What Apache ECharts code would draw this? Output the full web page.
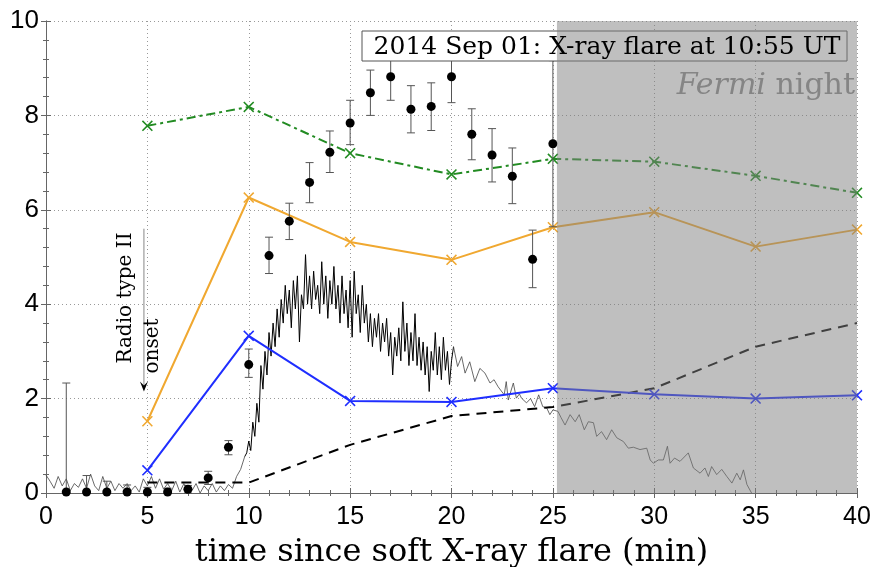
<!DOCTYPE html>
<html>
<head>
<meta charset="utf-8">
<script src="https://cdn.jsdelivr.net/npm/echarts@6/dist/echarts.min.js"></script>
<style>
  html, body { margin: 0; padding: 0; background: #fff; }
  #flare_chart { width: 874px; height: 567px; }
</style>
</head>
<body>
<div id="flare_chart"></div>
<script>
// model curves, sampled every 5 min
const modelTimes = [5, 10, 15, 20, 25, 30, 35, 40];
const greenModel = [7.78, 8.18, 7.2, 6.75, 7.08, 7.02, 6.72, 6.36];
const orangeModel = [1.52, 6.26, 5.32, 4.94, 5.63, 5.95, 5.22, 5.58];
const blueModel = [0.48, 3.33, 1.95, 1.93, 2.22, 2.09, 2.0, 2.07];
const dashTimes = [5, 10, 15, 20, 25, 30, 35, 40];
const dashModel = [0.22, 0.22, 1.02, 1.63, 1.82, 2.22, 3.1, 3.6];

// measured points: [minute, value, low, high]
const measured = [
  [1, 0.02, 0, 2.33], [2, 0.02, 0, 0.37], [3, 0.02, 0, 0.25], [4, 0.02, 0, 0.17],
  [5, 0.02, 0, 0.12], [6, 0.02, 0, 0.1], [7, 0.08, 0, 0.16], [8, 0.32, 0.18, 0.46],
  [9, 0.97, 0.81, 1.11], [10, 2.72, 2.45, 3.05], [11, 5.03, 4.65, 5.42], [12, 5.76, 5.37, 6.14],
  [13, 6.58, 6.15, 7.0], [14, 7.22, 6.79, 7.67], [15, 7.84, 7.38, 8.32], [16, 8.48, 8.0, 8.96],
  [17, 8.82, 8.32, 9.3], [18, 8.13, 7.63, 8.63], [19, 8.19, 7.68, 8.69], [20, 8.82, 8.27, 9.35],
  [21, 7.6, 7.06, 8.14], [22, 7.16, 6.59, 7.72], [23, 6.71, 6.13, 7.31], [24, 4.95, 4.35, 5.57],
  [25, 7.4, 5.64, 9.16]
];

// X-ray count rate trace: [minute, value]
const fluxQuiet = [
  [0, 0.38], [0.2, 0.25], [0.4, 0.1], [0.6, 0.35], [0.8, 0.15], [1.0, 0.3], [1.2, 0.05], [1.4, 0.2],
  [1.6, 0.12], [1.8, 0.3], [2.0, 0.1], [2.2, 0.4], [2.4, 0.15], [2.6, 0.05], [2.8, 0.35], [3.0, 0.1],
  [3.2, 0.25], [3.4, 0.05], [3.6, 0.2], [3.8, 0.1], [4.0, 0.2], [4.2, 0.05], [4.4, 0.15], [4.6, 0.02],
  [4.8, 0.3], [5.0, 0.15], [5.2, 0.35], [5.4, 0.1], [5.6, 0.3], [5.8, 0.08], [6.0, 0.2], [6.2, 0.05],
  [6.4, 0.25], [6.6, 0.02], [6.8, 0.2], [7.0, 0.1], [7.2, 0.05], [7.4, 0.2], [7.6, 0.0], [7.8, 0.15],
  [8.0, 0.05], [8.2, 0.2], [8.4, 0.02], [8.6, 0.15], [8.8, 0.05], [9.0, 0.18], [9.2, 0.1], [9.4, 0.35],
  [9.6, 0.5], [9.8, 0.77]
];
const fluxPeak = [
  [9.8, 0.77], [9.9, 0.85], [10.0, 1.1], [10.1, 0.9], [10.2, 1.5], [10.3, 1.2], [10.4, 1.9], [10.5, 1.5],
  [10.6, 2.7], [10.7, 2.2], [10.8, 3.0], [10.9, 2.5], [11.0, 3.4], [11.1, 2.9], [11.2, 3.6], [11.3, 3.1],
  [11.4, 3.9], [11.5, 3.3], [11.6, 4.1], [11.7, 3.6], [11.8, 4.4], [11.9, 3.8], [12.0, 4.3], [12.1, 3.5],
  [12.2, 4.5], [12.3, 3.9], [12.4, 4.6], [12.5, 3.2], [12.6, 4.2], [12.7, 3.9], [12.8, 5.05], [12.9, 4.0],
  [13.0, 4.6], [13.1, 3.9], [13.2, 4.7], [13.3, 4.1], [13.4, 4.4], [13.5, 3.8], [13.6, 4.9], [13.7, 4.0],
  [13.8, 4.6], [13.9, 3.7], [14.0, 4.5], [14.1, 4.0], [14.2, 4.8], [14.3, 3.9], [14.4, 4.4], [14.5, 3.6],
  [14.6, 4.6], [14.7, 3.8], [14.8, 4.3], [14.9, 3.5], [15.0, 4.5], [15.1, 3.3], [15.2, 4.7], [15.3, 3.8],
  [15.4, 4.2], [15.5, 3.4], [15.6, 4.4], [15.7, 3.6], [15.8, 4.0], [15.9, 3.2], [16.0, 3.8], [16.1, 3.1],
  [16.2, 3.7], [16.3, 3.3], [16.4, 3.8], [16.5, 3.0], [16.6, 3.6], [16.7, 3.2], [16.8, 3.7], [16.9, 2.9],
  [17.0, 3.4], [17.1, 2.5], [17.2, 3.3], [17.3, 2.9], [17.4, 3.5], [17.5, 2.8], [17.6, 4.05], [17.7, 3.0],
  [17.8, 3.6], [17.9, 2.7], [18.0, 3.4], [18.1, 2.8], [18.2, 3.8], [18.3, 2.7], [18.4, 3.3], [18.5, 2.6],
  [18.6, 3.2], [18.7, 2.5], [18.8, 3.1], [18.9, 2.15], [19.0, 3.0], [19.1, 2.6], [19.2, 3.4], [19.3, 2.5],
  [19.4, 3.1], [19.5, 2.4], [19.6, 3.3], [19.7, 2.6], [19.8, 3.0], [19.9, 2.3], [20.0, 2.8], [20.1, 3.1]
];
const fluxDecay = [
  [20.1, 3.1], [20.3, 2.68], [20.5, 2.89], [20.67, 2.54], [20.9, 2.78], [21.15, 2.36], [21.4, 2.64],
  [21.65, 2.54], [21.9, 2.33], [22.1, 2.4], [22.3, 2.25], [22.6, 2.08], [22.7, 2.36], [22.8, 1.97],
  [23.05, 2.33], [23.2, 2.01], [23.35, 2.1], [23.45, 2.01], [23.7, 1.91], [23.9, 2.0], [24.1, 1.83],
  [24.3, 2.08], [24.5, 1.83], [24.7, 1.8], [24.85, 1.66], [25.0, 1.76], [25.25, 1.73], [25.4, 1.6],
  [25.6, 1.44], [25.85, 1.66], [26.1, 1.51], [26.3, 1.66], [26.55, 1.34], [26.75, 1.51], [27.0, 1.49],
  [27.16, 1.2], [27.4, 1.3], [27.65, 1.13], [27.9, 1.34], [28.15, 1.17], [28.48, 1.09], [28.72, 0.95],
  [28.97, 0.97], [29.3, 0.92], [29.63, 0.95], [29.8, 0.7], [29.96, 0.63], [30.2, 0.7], [30.45, 0.7],
  [30.65, 0.99], [30.78, 0.63], [31.0, 0.74], [31.27, 0.67], [31.68, 0.85], [31.93, 0.53], [32.26, 0.42],
  [32.5, 0.53], [32.67, 0.35], [32.83, 0.56], [33.08, 0.39], [33.33, 0.5], [33.58, 0.35], [33.83, 0.21],
  [34.07, 0.42], [34.24, 0.28], [34.4, 0.49], [34.57, 0.18], [34.8, 0.0]
];

const fermiNight = [25.2, 40];
const xTicks = [0, 5, 10, 15, 20, 25, 30, 35, 40];
const yTicks = [0, 2, 4, 6, 8, 10];

const chart = echarts.init(document.getElementById("flare_chart"));

const crossSymbol = "path://M0,1L1,0L5,4L9,0L10,1L6,5L10,9L9,10L5,6L1,10L0,9L4,5Z";
const serif = "'DejaVu Serif', 'Liberation Serif', serif";
const sans = "'Liberation Sans', Arial, sans-serif";

function pairs(xs, ys) {
  return xs.map((x, i) => [x, ys[i]]);
}

function modelLine(name, data, color, type, z) {
  return {
    name: name,
    type: "line",
    data: data,
    z: z,
    symbol: crossSymbol,
    symbolSize: 11,
    itemStyle: { color: color, opacity: 1 },
    lineStyle: { color: color, width: 2, type: type },
  };
}

const errorBars = {
  type: "custom",
  z: 4,
  data: measured.map((m) => [m[0], m[2], m[3]]),
  renderItem: function (params, api) {
    const lo = api.coord([api.value(0), api.value(1)]);
    const hi = api.coord([api.value(0), api.value(2)]);
    const s = { stroke: "#555", lineWidth: 1 };
    return {
      type: "group",
      children: [
        { type: "line", shape: { x1: lo[0], y1: lo[1], x2: hi[0], y2: hi[1] }, style: s },
        { type: "line", shape: { x1: lo[0] - 4, y1: lo[1], x2: lo[0] + 4, y2: lo[1] }, style: s },
        { type: "line", shape: { x1: hi[0] - 4, y1: hi[1], x2: hi[0] + 4, y2: hi[1] }, style: s },
      ],
    };
  },
};

const nightShade = {
  type: "custom",
  z: 6,
  data: [fermiNight],
  renderItem: function (params, api) {
    const a = api.coord([api.value(0), 10]);
    const b = api.coord([api.value(1), 0]);
    return {
      type: "rect",
      shape: { x: a[0], y: a[1], width: b[0] - a[0], height: b[1] - a[1] },
      style: { fill: "rgba(128,128,128,0.5)" },
    };
  },
};

const axisGray = { color: "#666" };

const option = {
  animation: false,
  grid: { left: 46, right: 17, top: 21, bottom: 74, outerBoundsMode: "none" },
  xAxis: [
    {
      type: "value",
      min: 0,
      max: 40,
      interval: 5,
      name: "time since soft X-ray flare (min)",
      nameLocation: "middle",
      nameGap: 44,
      nameTextStyle: { fontFamily: serif, fontSize: 32, color: "#000" },
      axisLine: { lineStyle: { color: "#888" } },
      axisTick: { inside: true, length: 5, lineStyle: axisGray },
      minorTick: { show: true, splitNumber: 5, length: 3, lineStyle: axisGray },
      axisLabel: {
        fontFamily: sans,
        fontSize: 25,
        color: "#000",
        margin: 12,
        formatter: (v) => (xTicks.includes(v) ? String(v) : ""),
      },
      splitLine: { show: true, lineStyle: { color: "#999", type: [1, 3], width: 1 } },
    },
    {
      type: "value",
      position: "top",
      min: 0,
      max: 40,
      interval: 5,
      axisLine: { show: true, lineStyle: axisGray },
      axisTick: { inside: true, length: 5, lineStyle: axisGray },
      minorTick: { show: true, splitNumber: 5, length: 3, lineStyle: axisGray },
      axisLabel: { show: false },
      splitLine: { show: false },
    },
  ],
  yAxis: [
    {
      type: "value",
      min: 0,
      max: 10,
      interval: 2,
      axisLine: { show: true, lineStyle: { color: "#888" } },
      axisTick: { show: true, inside: true, length: 5, lineStyle: axisGray },
      minorTick: { show: true, splitNumber: 5, length: 3, lineStyle: axisGray },
      axisLabel: {
        fontFamily: sans,
        fontSize: 26,
        color: "#000",
        margin: 7,
        formatter: (v) => (yTicks.includes(v) ? String(v) : ""),
      },
      splitLine: { show: true, lineStyle: { color: "#999", type: [1, 3], width: 1 } },
    },
    {
      type: "value",
      position: "right",
      min: 0,
      max: 10,
      interval: 2,
      axisLine: { show: true, lineStyle: axisGray },
      axisTick: { show: true, inside: true, length: 5, lineStyle: axisGray },
      minorTick: { show: true, splitNumber: 5, length: 3, lineStyle: axisGray },
      axisLabel: { show: false },
      splitLine: { show: false },
    },
  ],
  series: [
    {
      type: "line",
      data: fluxQuiet,
      z: 2,
      symbol: "none",
      lineStyle: { color: "#444", width: 0.8 },
    },
    {
      type: "line",
      data: fluxPeak,
      z: 2,
      symbol: "none",
      lineStyle: { color: "#000", width: 1 },
    },
    {
      type: "line",
      data: fluxDecay,
      z: 2,
      symbol: "none",
      lineStyle: { color: "#444", width: 0.8 },
    },
    {
      type: "line",
      data: pairs(dashTimes, dashModel),
      z: 3,
      symbol: "none",
      lineStyle: { color: "#000", width: 2, type: [10, 7] },
    },
    modelLine("green", pairs(modelTimes, greenModel), "#228b22", [9, 4, 3, 4], 3),
    modelLine("orange", pairs(modelTimes, orangeModel), "#f0a830", "solid", 3),
    modelLine("blue", pairs(modelTimes, blueModel), "#1f2eff", "solid", 3),
    errorBars,
    {
      type: "scatter",
      z: 5,
      data: measured.map((m) => [m[0], m[1]]),
      symbol: "circle",
      symbolSize: 9,
      itemStyle: { color: "#000", opacity: 1 },
    },
    nightShade,
  ],
};

chart.setOption(option);

// annotations placed from data coordinates
const arrowTop = chart.convertToPixel({ gridIndex: 0 }, [4.83, 5.6]);
const arrowTip = chart.convertToPixel({ gridIndex: 0 }, [4.83, 2.15]);

chart.setOption({
  graphic: [
    {
      type: "rect",
      z: 5,
      shape: { x: 362, y: 31, width: 485, height: 30 },
      style: { fill: "#fff", stroke: "#555", lineWidth: 1 },
    },
    {
      type: "text",
      z: 10,
      x: 607,
      y: 47,
      style: {
        text: "2014 Sep 01: X-ray flare at 10:55 UT",
        font: "25px " + serif,
        fill: "#000",
        align: "center",
        verticalAlign: "middle",
      },
    },
    {
      type: "text",
      z: 10,
      x: 855,
      y: 86,
      style: {
        text: "{i|Fermi} night",
        font: "30px " + serif,
        fill: "#858585",
        align: "right",
        verticalAlign: "middle",
        rich: {
          i: { fontFamily: serif, fontSize: 30, fontStyle: "italic", fill: "#858585" },
        },
      },
    },
    {
      type: "line",
      z: 10,
      shape: { x1: arrowTop[0], y1: arrowTop[1], x2: arrowTip[0], y2: arrowTip[1] - 2 },
      style: { stroke: "#888", lineWidth: 1 },
    },
    {
      type: "polygon",
      z: 10,
      shape: {
        points: [
          [arrowTip[0], arrowTip[1]],
          [arrowTip[0] - 4, arrowTip[1] - 10],
          [arrowTip[0], arrowTip[1] - 6],
          [arrowTip[0] + 4, arrowTip[1] - 10],
        ],
      },
      style: { fill: "#000" },
    },
    {
      type: "text",
      z: 10,
      x: arrowTop[0] - 18,
      y: 298,
      rotation: Math.PI / 2,
      style: {
        text: "Radio type II",
        font: "20px " + serif,
        fill: "#000",
        align: "center",
        verticalAlign: "middle",
      },
    },
    {
      type: "text",
      z: 10,
      x: arrowTop[0] + 9,
      y: 346,
      rotation: Math.PI / 2,
      style: {
        text: "onset",
        font: "20px " + serif,
        fill: "#000",
        align: "center",
        verticalAlign: "middle",
      },
    },
  ],
});
</script>
</body>
</html>
